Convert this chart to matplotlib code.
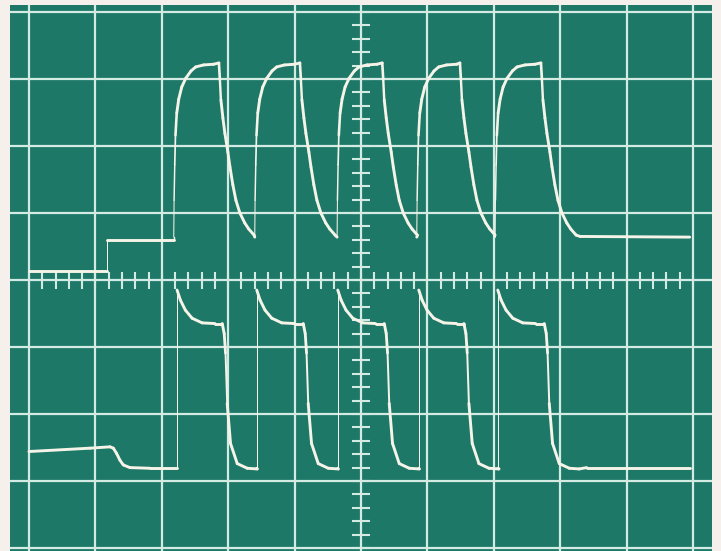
import numpy as np
import matplotlib.pyplot as plt
from matplotlib.collections import LineCollection

# screen graticule: 10 x 8 divisions, centre lines at x=5, y=0
x_div = 10
y_div = 8

# upper trace (channel A), values in divisions
a_start_x = [0.00, 1.17, 1.17, 2.18]
a_start_y = [0.13, 0.13, 0.60, 0.60]
a_rise = [2.18, 3.40, 4.64, 5.84, 7.02]
a_fall = [2.86, 4.08, 5.32, 6.49, 7.71]
a_rise_dx = [0.0, 0.005, 0.015, 0.026, 0.045, 0.075, 0.12, 0.18, 0.26, 0.33, 0.45, 0.60]
a_rise_y = [0.64, 1.19, 1.72, 2.16, 2.49, 2.70, 2.88, 3.01, 3.12, 3.18, 3.21, 3.22]
a_fall_dx = [0.0, 0.015, 0.03, 0.06, 0.09, 0.135, 0.166, 0.21, 0.256, 0.316, 0.39, 0.45, 0.53]
a_fall_y = [3.24, 2.99, 2.69, 2.42, 2.19, 1.91, 1.69, 1.42, 1.19, 1.00, 0.85, 0.76, 0.67]
a_end_x = [8.30, 9.95]
a_end_y = [0.65, 0.64]

# lower trace (channel B)
b_start_x = [0.00, 0.92, 1.22, 1.27, 1.32, 1.37, 1.42, 1.52, 1.82, 2.23]
b_start_y = [-2.56, -2.51, -2.49, -2.51, -2.59, -2.69, -2.76, -2.80, -2.81, -2.81]
b_rise = [2.23, 3.43, 4.65, 5.87, 7.06]
b_fall = [2.91, 4.13, 5.35, 6.55, 7.76]
b_rise_dx = [0.0, 0.0, 0.05, 0.125, 0.226, 0.377, 0.57]
b_rise_y = [-2.81, -0.15, -0.30, -0.45, -0.57, -0.64, -0.65]
b_fall_dx = [0.0, 0.03, 0.05, 0.075, 0.125, 0.226, 0.377, 0.527]
b_fall_y = [-0.65, -0.80, -1.09, -1.84, -2.44, -2.74, -2.81, -2.82]
b_end_x = [8.40, 9.95]
b_end_y = [-2.80, -2.80]

screen = "#1d7868"
paper = "#f5f0ec"
grat = "#d3ebe2"
beam = "#f6f4e8"


def build(sx, sy, rises, falls, rdx, ry, fdx, fy, ex, ey):
    xs, ys = list(sx), list(sy)
    for r, f in zip(rises, falls):
        xs += [r + d for d in rdx]
        ys += list(ry)
        xs += [f + d for d in fdx]
        ys += list(fy)
    xs += ex
    ys += ey
    return np.array(xs), np.array(ys)


def beam_trace(ax, xs, ys):
    # fast parts of the sweep come out thinner, like on a real tube
    px_x = np.diff(xs) * 66.4
    px_y = np.diff(ys) * 67.0
    speed = np.hypot(px_x, px_y) / np.maximum(np.abs(px_x), 0.05)
    lw = np.clip(2.9 * (14.0 / speed) ** 0.5, 1.0, 2.9) * 0.72
    pts = np.column_stack([xs, ys]).reshape(-1, 1, 2)
    segs = np.concatenate([pts[:-1], pts[1:]], axis=1)
    lc = LineCollection(segs, colors=beam, linewidths=lw, capstyle="round",
                        joinstyle="round", zorder=3)
    ax.add_collection(lc)


fig = plt.figure(figsize=(7.21, 5.51), dpi=100, facecolor=paper)
ax = fig.add_axes([10 / 721, 0, 702 / 721, 546 / 551])
ax.set_facecolor(screen)
ax.set_xlim(-19 / 66.4, x_div + 19 / 66.4)
ax.set_ylim(-y_div / 2 - 3 / 67, y_div / 2 + 7 / 67)

for v in range(x_div + 1):
    ax.axvline(v, color=grat, lw=1.6, zorder=1)
for v in range(-y_div // 2, y_div // 2 + 1):
    ax.axhline(v, color=grat, lw=1.6, zorder=1)

# minor ticks on the centre lines
mx = np.arange(0, x_div + 0.01, 0.2)
my = np.arange(-y_div / 2, y_div / 2 + 0.01, 0.2)
ax.vlines(mx, -0.14, 0.12, color=grat, lw=1.5, zorder=1)
ax.hlines(my, x_div / 2 - 0.13, x_div / 2 + 0.13, color=grat, lw=1.5, zorder=1)

xa, ya = build(a_start_x, a_start_y, a_rise, a_fall, a_rise_dx, a_rise_y,
               a_fall_dx, a_fall_y, a_end_x, a_end_y)
xb, yb = build(b_start_x, b_start_y, b_rise, b_fall, b_rise_dx, b_rise_y,
               b_fall_dx, b_fall_y, b_end_x, b_end_y)
beam_trace(ax, xa, ya)
beam_trace(ax, xb, yb)

ax.set_xticks([])
ax.set_yticks([])
for s in ax.spines.values():
    s.set_visible(False)

fig.savefig("out.png", dpi=100, facecolor=paper)
